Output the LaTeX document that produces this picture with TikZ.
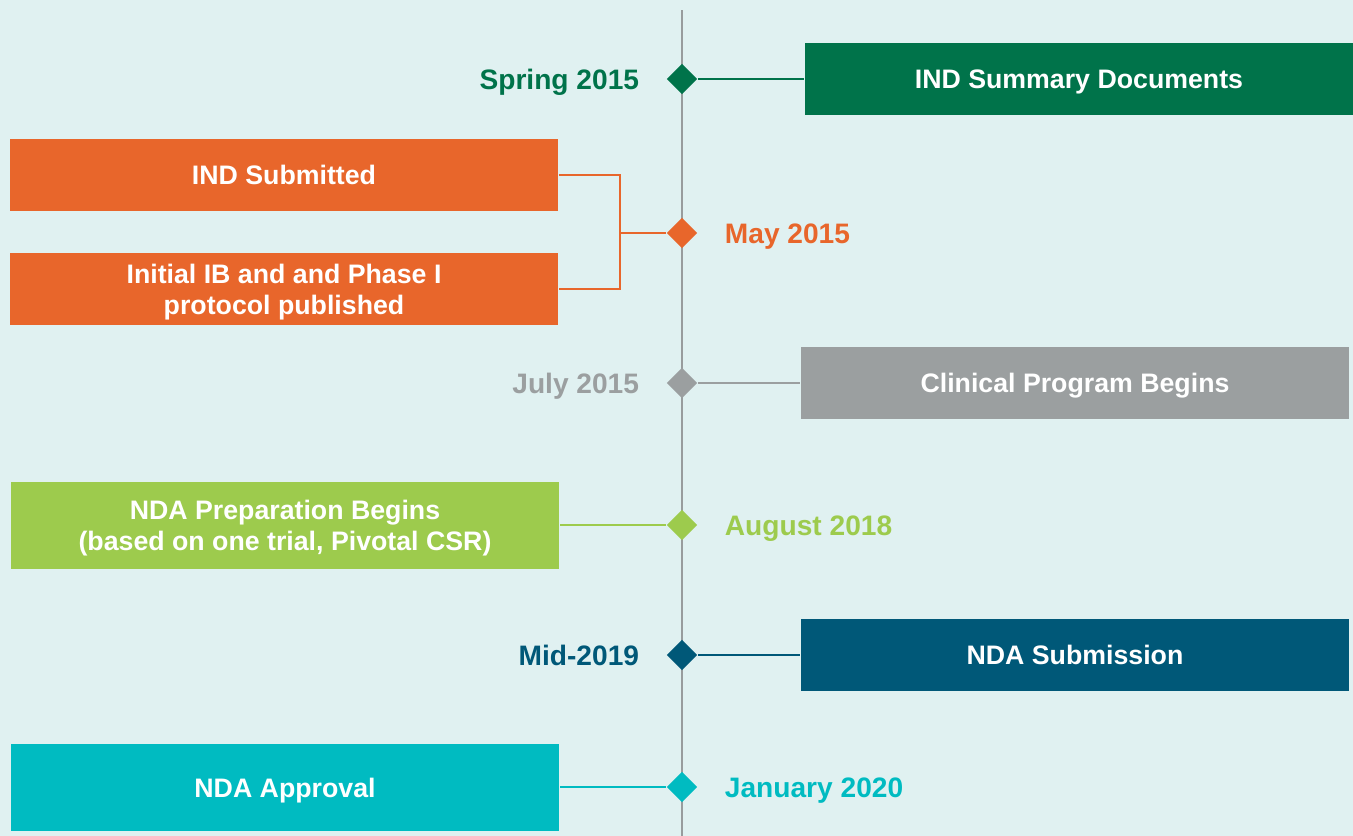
\documentclass[tikz,border=0pt]{standalone}
\usepackage{fontspec}
\setmainfont{Liberation Sans}
\usetikzlibrary{
    shapes.geometric,
    positioning,
    calc
}
\definecolor{fondoMenta}{RGB}{224, 241, 241}
\definecolor{grisEje}{RGB}{152, 156, 157}
\definecolor{colorSpring}{RGB}{0, 115, 74}
\definecolor{colorMay}{RGB}{232, 102, 43}
\definecolor{colorJuly}{RGB}{155, 159, 160}
\definecolor{colorAugust}{RGB}{157, 203, 77}
\definecolor{colorMid}{RGB}{0, 88, 120}
\definecolor{colorJanuary}{RGB}{0, 187, 193}
\tikzset{
    hito/.style={
        diamond, aspect=1, draw=none,
        minimum size=0.31cm, inner sep=0pt
    },
    caja/.style={
        rectangle, draw=none,
        minimum width=5.48cm, minimum height=0.72cm,
        inner sep=0pt, align=center, text=white, text depth=0pt,
        font=\fontsize{7.6}{8.8}\selectfont\bfseries
    },
    cajaAlta/.style={
        caja, minimum height=0.87cm
    },
    fecha/.style={
        inner sep=0pt, text height=5.7pt, text depth=0pt,
        font=\fontsize{8}{9.6}\selectfont\bfseries
    },
    enlace/.style={
        line width=0.7pt
    },
}

\begin{document}
\begin{tikzpicture}[x=0.01cm, y=-0.01cm]

    % ----------------------------------------------------------
    % FONDO + EJE (coordenadas en pixeles, y hacia abajo)
    % ----------------------------------------------------------
    \fill[fondoMenta] (0,0) rectangle (1353,836);
    \useasboundingbox (0,0) rectangle (1353,836);

    \coordinate (ejeArriba) at (682, 10);
    \coordinate (ejeAbajo)  at (682, 836);
    \draw[grisEje, line width=0.85pt] (ejeArriba) -- (ejeAbajo);

    % ----------------------------------------------------------
    % HITOS sobre el eje (x = 682)
    % ----------------------------------------------------------
    \node[hito, fill=colorSpring]  at (682, 79)  (hSpring)  {};
    \node[hito, fill=colorMay]     at (682, 233) (hMay)     {};
    \node[hito, fill=colorJuly]    at (682, 383) (hJuly)    {};
    \node[hito, fill=colorAugust]  at (682, 525) (hAugust)  {};
    \node[hito, fill=colorMid]     at (682, 655) (hMid)     {};
    \node[hito, fill=colorJanuary] at (682, 787) (hJanuary) {};

    % Fechas
    \node[fecha, text=colorSpring,  left=0.26cm of hSpring]   (fSpring)  {Spring 2015};
    \node[fecha, text=colorMay,     right=0.26cm of hMay]     (fMay)     {May 2015};
    \node[fecha, text=colorJuly,    left=0.26cm of hJuly]     (fJuly)    {July 2015};
    \node[fecha, text=colorAugust,  right=0.26cm of hAugust]  (fAugust)  {August 2018};
    \node[fecha, text=colorMid,     left=0.26cm of hMid]      (fMid)     {Mid-2019};
    \node[fecha, text=colorJanuary, right=0.26cm of hJanuary] (fJanuary) {January 2020};

    % ----------------------------------------------------------
    % CAJAS
    % ----------------------------------------------------------
    \node[caja, fill=colorSpring]      at (1079, 79)    (cSpring)  {IND Summary Documents};
    \node[caja, fill=colorMay]         at (284, 175)    (cIndSub)  {IND Submitted};
    \node[caja, fill=colorMay]         at (284, 289)    (cIB)      {Initial IB and and Phase I\\protocol published};
    \node[caja, fill=colorJuly]        at (1075, 383)   (cJuly)    {Clinical Program Begins};
    \node[cajaAlta, fill=colorAugust]  at (285, 525.5)  (cAugust)  {NDA Preparation Begins\\(based on one trial, Pivotal CSR)};
    \node[caja, fill=colorMid]         at (1075, 655)   (cMid)     {NDA Submission};
    \node[cajaAlta, fill=colorJanuary] at (285, 787.5)  (cJanuary) {NDA Approval};

    % ----------------------------------------------------------
    % ENLACES
    % ----------------------------------------------------------
    \draw[enlace, colorSpring]  (hSpring)  -- (cSpring.west);
    \draw[enlace, colorJuly]    (hJuly)    -- (cJuly.west);
    \draw[enlace, colorAugust]  (hAugust)  -- (cAugust.east |- hAugust);
    \draw[enlace, colorMid]     (hMid)     -- (cMid.west);
    \draw[enlace, colorJanuary] (hJanuary) -- (cJanuary.east |- hJanuary);

    % ---- MAY: corchete que une las dos cajas ----
    \coordinate (unionMay) at (620, 233);
    \draw[enlace, colorMay]
        (cIndSub.east) -| (unionMay) |- (cIB.east);
    \draw[enlace, colorMay] (unionMay) -- (hMay);

\end{tikzpicture}
\end{document}
